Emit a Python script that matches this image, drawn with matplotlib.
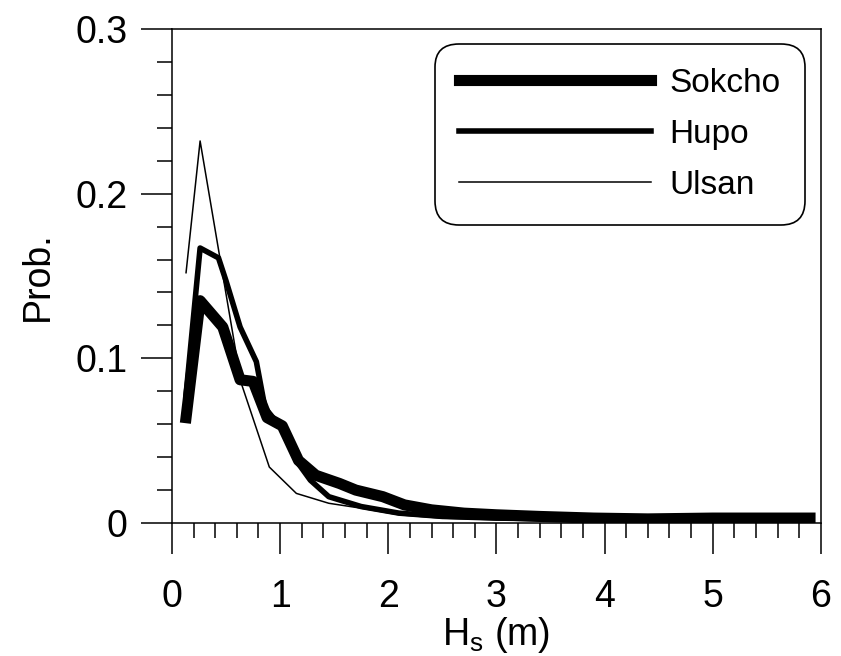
import numpy as np
import matplotlib.pyplot as plt
from matplotlib.ticker import MultipleLocator

plt.rcParams['font.family'] = ['Liberation Sans', 'DejaVu Sans']

# Sokcho (thickest line)
hs_sokcho = [0.13, 0.26, 0.47, 0.63, 0.75, 0.88, 1.02, 1.17, 1.33, 1.55, 1.70, 1.95,
             2.15, 2.4, 2.7, 3.0, 3.4, 3.9, 4.4, 5.0, 5.9]
p_sokcho = [0.064, 0.135, 0.119, 0.087, 0.086, 0.064, 0.059, 0.038, 0.029, 0.024, 0.020,
            0.016, 0.011, 0.008, 0.006, 0.005, 0.004, 0.003, 0.0025, 0.003, 0.003]

# Hupo (medium line)
hs_hupo = [0.13, 0.26, 0.43, 0.50, 0.63, 0.78, 0.86, 1.02, 1.17, 1.28, 1.45, 1.75,
           2.1, 2.5, 3.0, 4.0, 5.0, 5.9]
p_hupo = [0.078, 0.167, 0.161, 0.147, 0.119, 0.098, 0.070, 0.057, 0.036, 0.026, 0.016,
          0.010, 0.006, 0.004, 0.003, 0.002, 0.0015, 0.0015]

# Ulsan (thin line)
hs_ulsan = [0.13, 0.26, 0.50, 0.64, 0.90, 1.15, 1.45, 1.75, 2.1, 2.5, 3.0, 4.0, 5.0, 5.9]
p_ulsan = [0.152, 0.232, 0.139, 0.085, 0.034, 0.018, 0.012, 0.009, 0.005, 0.003, 0.002,
           0.0015, 0.001, 0.001]

xticks = [0, 1, 2, 3, 4, 5, 6]
xlabels = ['0', '1', '2', '3', '4', '5', '6']
yticks = [0, 0.1, 0.2, 0.3]
ylabels = ['0', '0.1', '0.2', '0.3']

fig = plt.figure(figsize=(8.41, 6.56), dpi=100)
ax = fig.add_axes([0.2045, 0.2027, 0.7715, 0.7531])

ax.plot(hs_sokcho, p_sokcho, color='black', lw=8.0, label='Sokcho', solid_joinstyle='round')
ax.plot(hs_hupo, p_hupo, color='black', lw=4.0, label='Hupo', solid_joinstyle='round')
ax.plot(hs_ulsan, p_ulsan, color='black', lw=1.1, label='Ulsan')

ax.set_xlim(0, 6)
ax.set_ylim(0, 0.3)
ax.set_xticks(xticks, xlabels)
ax.set_yticks(yticks, ylabels)
ax.xaxis.set_minor_locator(MultipleLocator(0.2))
ax.yaxis.set_minor_locator(MultipleLocator(0.02))
ax.tick_params(which='major', direction='out', length=22, width=1.1, labelsize=27)
ax.tick_params(axis='x', which='major', pad=18)
ax.tick_params(axis='y', which='major', pad=10)
ax.tick_params(which='minor', direction='out', length=11, width=1.1)
for s in ax.spines.values():
    s.set_linewidth(1.1)

ax.set_xlabel('H$_\\mathregular{s}$ (m)', fontsize=27, labelpad=0)
ax.set_ylabel('Prob.', fontsize=27, labelpad=14)

leg = ax.legend(loc='upper right', bbox_to_anchor=(0.975, 0.970), borderaxespad=0,
                fontsize=24, handlelength=5.75, handletextpad=0.55, labelspacing=0.6,
                borderpad=0.72, frameon=True, fancybox=True)
fr = leg.get_frame()
fr.set_edgecolor('black')
fr.set_linewidth(1.2)
fr.set_alpha(1)
fr.set_boxstyle('round', pad=0, rounding_size=0.7)

fig.savefig('out.png', dpi=100)
